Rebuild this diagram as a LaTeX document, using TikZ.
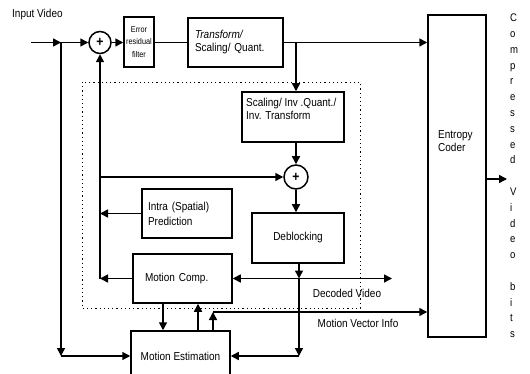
\documentclass[tikz,border=0pt]{standalone}
\usepackage{fontspec}
\setmainfont{Liberation Sans}[FakeStretch=0.87]
\usetikzlibrary{arrows.meta}
\begin{document}
\begin{tikzpicture}[x=1pt,y=-1pt,
  every node/.style={font=\fontsize{11.5}{13}\selectfont},
  box/.style={draw, line width=1.5pt, inner sep=0pt},
  arr/.style={line width=1.5pt, -{Triangle[length=8pt,width=8pt]}},
  ln/.style={line width=1.5pt},
  sumc/.style={draw, circle, line width=1.5pt, inner sep=0pt, font=\bfseries\fontsize{14}{14}\selectfont},
  lbl/.style={inner sep=0pt},
]
\useasboundingbox (0,0) rectangle (530,374);
\clip (0,0) rectangle (530,374);

% dotted reconstruction region
\draw[line width=0.9pt, dash pattern=on 1.2pt off 3pt] (82,82) rectangle (360,308);

% nodes
\node[sumc, minimum size=22pt] (sum1) at (100,42.5) {+};
\node[box, minimum width=30pt, minimum height=50pt, align=center, font=\fontsize{8.4}{12.5}\selectfont] (erf) at (139,42) {Error\\residual\\filter};
\node[box, minimum width=95pt, minimum height=49pt, text width=81pt, inner xsep=7pt, align=left] (tsq) at (235.5,42.5) {{\itshape Transform/}\\Scaling/ Quant.};
\node[box, minimum width=58pt, minimum height=322pt] (ec) at (457,176) {};
\node[lbl, anchor=west, align=left] (ect) at (438,141) {Entropy\\Coder};
\node[box, minimum width=102pt, minimum height=50pt] (siq) at (293,117) {};
\node[lbl, anchor=west, align=left, font=\fontsize{11.5}{12.5}\selectfont] (siqt) at (246,109) {Scaling/ Inv .Quant./\\Inv. Transform};
\node[sumc, minimum size=24pt] (sum2) at (296,177) {+};
\node[box, minimum width=92pt, minimum height=50pt] (deb) at (298,238) {Deblocking};
\node[box, minimum width=90pt, minimum height=49pt, text width=78pt, inner xsep=6pt, align=left, font=\fontsize{11.5}{15}\selectfont] (intra) at (187,213.5) {Intra (Spatial)\\Prediction};
\node[box, minimum width=99pt, minimum height=49pt, text width=75pt, inner xsep=12pt, align=left] (mc) at (182.5,278.5) {Motion Comp.};
\node[box, minimum width=99pt, minimum height=50pt] (me) at (180.5,356) {Motion Estimation};

% labels
\node[lbl, anchor=west] (inl) at (12,15) {Input Video};
\node[lbl] (dvl) at (347,293) {Decoded Video};
\node[lbl] (mvl) at (358,323) {Motion Vector Info};
\node[lbl, anchor=west, align=left, font=\fontsize{11}{15.8}\selectfont] (cvb) at (510,176) {C\\o\\m\\p\\r\\e\\s\\s\\e\\d\\\strut\\V\\i\\d\\e\\o\\\strut\\b\\i\\t\\s};

% junction coordinates
\coordinate (in0) at (31,42.5);
\coordinate (j1) at (61,42.5);
\coordinate (j2) at (61,356);
\coordinate (j3) at (296,42.5);
\coordinate (j5) at (100,278.5);
\coordinate (j7) at (100,177);
\coordinate (j4) at (299,278.5);
\coordinate (dv) at (392,278.5);
\coordinate (j8) at (299,356);
\coordinate (j9) at (213,312);
\coordinate (eo) at (507,179);

% connectors
\draw[arr] (in0) -- (j1);
\draw[arr] (j1) -- (sum1);
\draw[arr] (j1) -- (j2);
\draw[arr] (j2) -- (me.west);
\draw[arr] (sum1) -- (sum1 -| erf.west);
\draw[ln] (erf.east |- tsq.west) -- (tsq.west);
\draw[arr] (tsq.east) -- (tsq.east -| ec.west);
\draw[arr] (j3) -- (j3 |- siq.north);
\draw[arr] (siq.south -| sum2) -- (sum2);
\draw[arr] (sum2) -- (sum2 |- deb.north);
\draw[arr] (j5) -- (sum1);
\draw[arr] (mc.west) -- (j5);
\draw[arr] (intra.west) -- (intra.west -| j5);
\draw[arr] (j7) -- (sum2);
\draw[arr] (j4 |- deb.south) -- (j4);
\draw[arr] (j4) -- (mc.east);
\draw[arr] (j4) -- (dv);
\draw[arr] (j4) -- (j8);
\draw[arr] (j8) -- (me.east);
\draw[arr] ([xshift=-19.5pt]mc.south) -- ([xshift=-19.5pt]mc.south |- me.north);
\draw[arr] ([xshift=15.5pt]mc.south |- me.north) -- ([xshift=15.5pt]mc.south);
\draw[arr] (j9 |- me.north) -- (j9);
\draw[arr] (j9) -- (j9 -| ec.west);
\draw[arr] (ec.east |- eo) -- (eo);
\end{tikzpicture}
\end{document}
